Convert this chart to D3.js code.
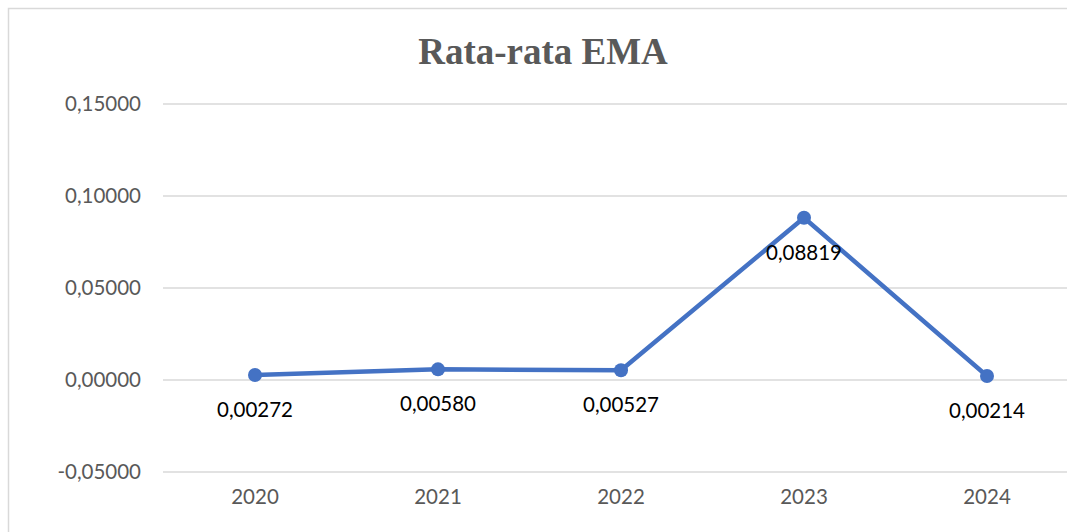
<!DOCTYPE html>
<html><head><meta charset="utf-8">
<script src="https://cdn.jsdelivr.net/npm/d3@7"></script>
<style>body{margin:0;background:#fff;overflow:hidden}svg{display:block}</style>
</head><body><svg id="c" width="1067" height="532"></svg>
<script>
const years = ["2020","2021","2022","2023","2024"];
const emaValues = [0.00272, 0.00580, 0.00527, 0.08819, 0.00214];
const yTicks = [-0.05, 0, 0.05, 0.10, 0.15];
const title = "Rata-rata EMA";

const svg = d3.select("#c");
const fmt = v => d3.format(".5f")(v).replace(".", ",").replace("−","-");
const FONT = "Lato, 'Open Sans', sans-serif";

// chart border
svg.append("rect").attr("x",8.5).attr("y",8.5).attr("width",1200).attr("height",600)
  .attr("fill","#fff").attr("stroke","#d9d9d9").attr("stroke-width",1.5);

const x = d3.scaleBand().domain(years).range([163.5, 1078.5]);
const y = d3.scaleLinear().domain([-0.05, 0.15]).range([472, 104]);

// gridlines
svg.append("g").selectAll("line").data(yTicks).join("line")
  .attr("x1",163).attr("x2",1067)
  .attr("y1",d=>y(d)).attr("y2",d=>y(d))
  .attr("stroke","#d9d9d9").attr("stroke-width",1.3);

// y axis labels
const yAxis = d3.axisLeft(y).tickValues(yTicks).tickFormat(fmt).tickSize(0).tickPadding(0);
const ga = svg.append("g").attr("transform","translate(141,0)").call(yAxis);
ga.select(".domain").remove();
ga.selectAll("text").attr("font-family",FONT).attr("font-size",20.5)
  .attr("fill","#595959");

// x axis labels
const xAxis = d3.axisBottom(x).tickSize(0).tickPadding(0);
const gx = svg.append("g").attr("transform","translate(0,489)").call(xAxis);
gx.select(".domain").remove();
gx.selectAll("text").attr("font-family",FONT).attr("font-size",20.5)
  .attr("fill","#595959").attr("dy","0.71em");

// title
svg.append("text").attr("x",543).attr("y",64).attr("text-anchor","middle")
  .attr("font-family","'Liberation Serif', 'Times New Roman', serif").attr("font-weight","bold")
  .attr("font-size",37).attr("fill","#595959").text(title);

const cx = d => x(d) + x.bandwidth()/2;
const line = d3.line().x((d,i)=>cx(years[i])).y(d=>y(d));
svg.append("path").datum(emaValues).attr("d",line).attr("fill","none")
  .attr("stroke","#4472c4").attr("stroke-width",4.5).attr("stroke-linejoin","round");

svg.append("g").selectAll("circle").data(emaValues).join("circle")
  .attr("cx",(d,i)=>cx(years[i])).attr("cy",d=>y(d)).attr("r",7).attr("fill","#4472c4");

svg.append("g").selectAll("text").data(emaValues).join("text")
  .attr("x",(d,i)=>cx(years[i])).attr("y",d=>y(d)+42).attr("text-anchor","middle")
  .attr("font-family",FONT).attr("font-size",20.5).attr("fill","#000")
  .text(fmt);
</script></body></html>
